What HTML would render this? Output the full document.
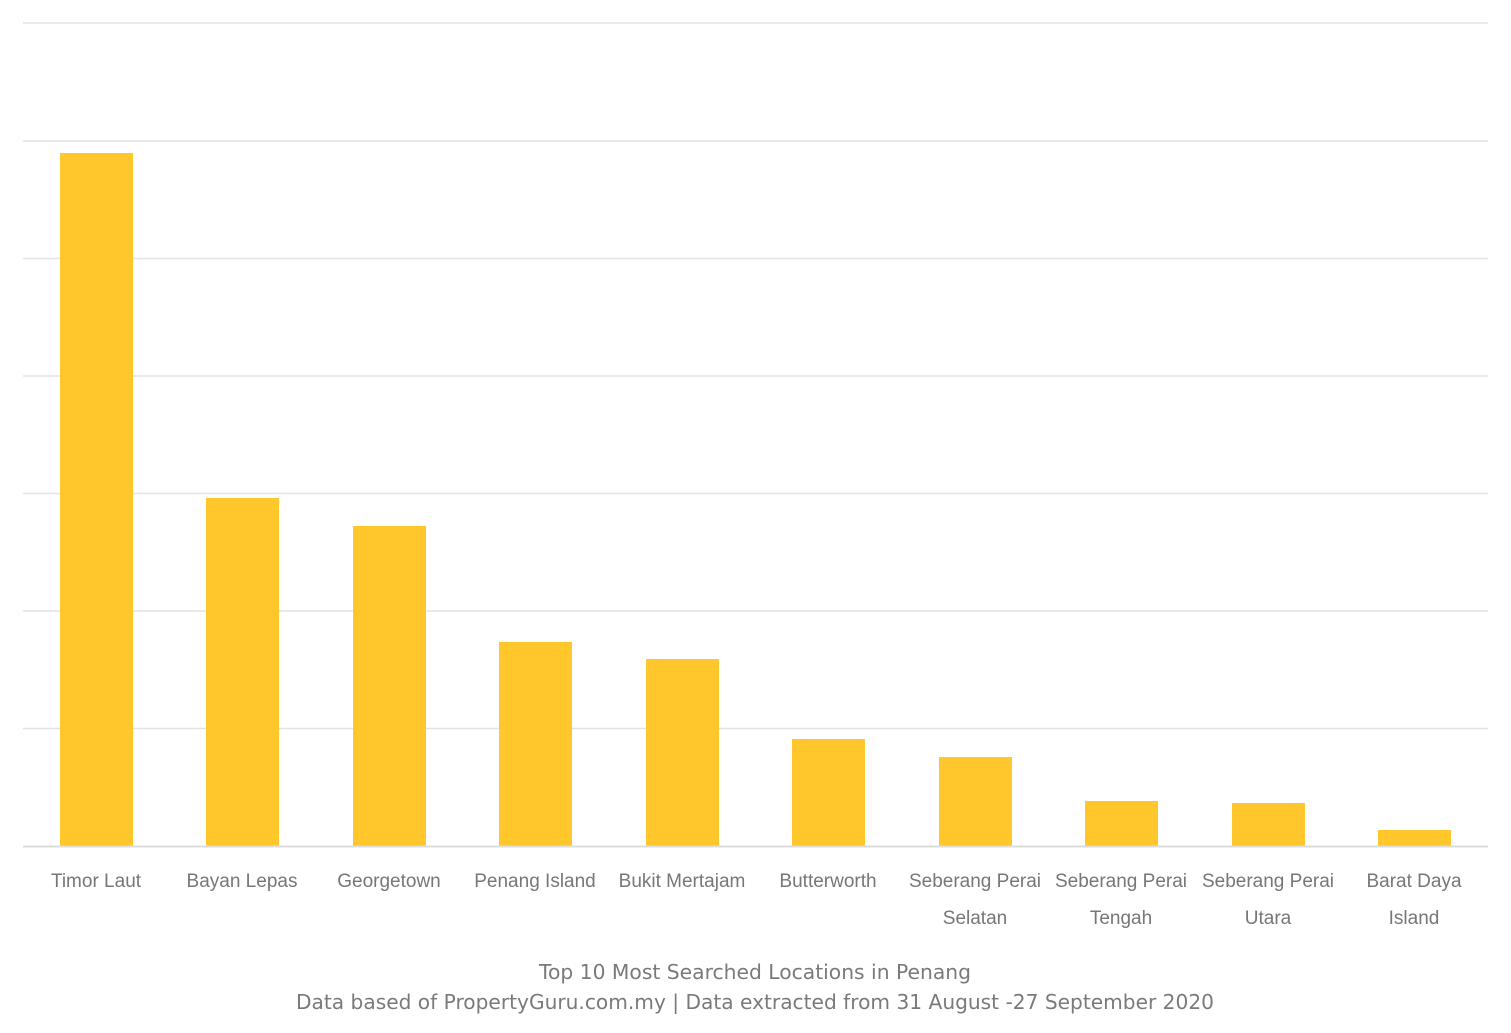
<!DOCTYPE html>
<html><head><style>body{margin:0;background:#fff}svg{display:block}</style></head><body>
<svg width="1511" height="1033" xmlns="http://www.w3.org/2000/svg">
<g stroke="#e3e3e3" stroke-width="1.5">
<line x1="23" x2="1488" y1="23" y2="23"/><line x1="23" x2="1488" y1="141" y2="141"/>
<line x1="23" x2="1488" y1="258.5" y2="258.5"/><line x1="23" x2="1488" y1="376" y2="376"/>
<line x1="23" x2="1488" y1="493.5" y2="493.5"/><line x1="23" x2="1488" y1="611" y2="611"/>
<line x1="23" x2="1488" y1="728.5" y2="728.5"/>
</g>
<g fill="#FFC72C">
<rect x="60" y="153" width="73" height="693"/>
<rect x="206" y="498" width="73" height="348"/>
<rect x="353" y="526" width="73" height="320"/>
<rect x="499" y="642" width="73" height="204"/>
<rect x="646" y="659" width="73" height="187"/>
<rect x="792" y="739" width="73" height="107"/>
<rect x="939" y="757" width="73" height="89"/>
<rect x="1085" y="801" width="73" height="45"/>
<rect x="1232" y="803" width="73" height="43"/>
<rect x="1378" y="830" width="73" height="16"/>
</g>
<line x1="23" x2="1488" y1="846.5" y2="846.5" stroke="#dcdcdc" stroke-width="2"/>
<g font-family="Liberation Sans, sans-serif" font-size="19" fill="#777" text-anchor="middle">
<text x="96" y="887">Timor Laut</text>
<text x="242" y="887">Bayan Lepas</text>
<text x="389" y="887">Georgetown</text>
<text x="535" y="887">Penang Island</text>
<text x="682" y="887">Bukit Mertajam</text>
<text x="828" y="887">Butterworth</text>
<text x="975" y="887">Seberang Perai</text><text x="975" y="924">Selatan</text>
<text x="1121" y="887">Seberang Perai</text><text x="1121" y="924">Tengah</text>
<text x="1268" y="887">Seberang Perai</text><text x="1268" y="924">Utara</text>
<text x="1414" y="887">Barat Daya</text><text x="1414" y="924">Island</text>
</g>
<g font-family="DejaVu Sans, Liberation Sans, sans-serif" font-size="20" fill="#7a7a7a" text-anchor="middle">
<text x="755" y="979" textLength="432" lengthAdjust="spacingAndGlyphs">Top 10 Most Searched Locations in Penang</text>
<text x="755" y="1009" textLength="918" lengthAdjust="spacingAndGlyphs">Data based of PropertyGuru.com.my | Data extracted from 31 August -27 September 2020</text>
</g>
</svg>
</body></html>
